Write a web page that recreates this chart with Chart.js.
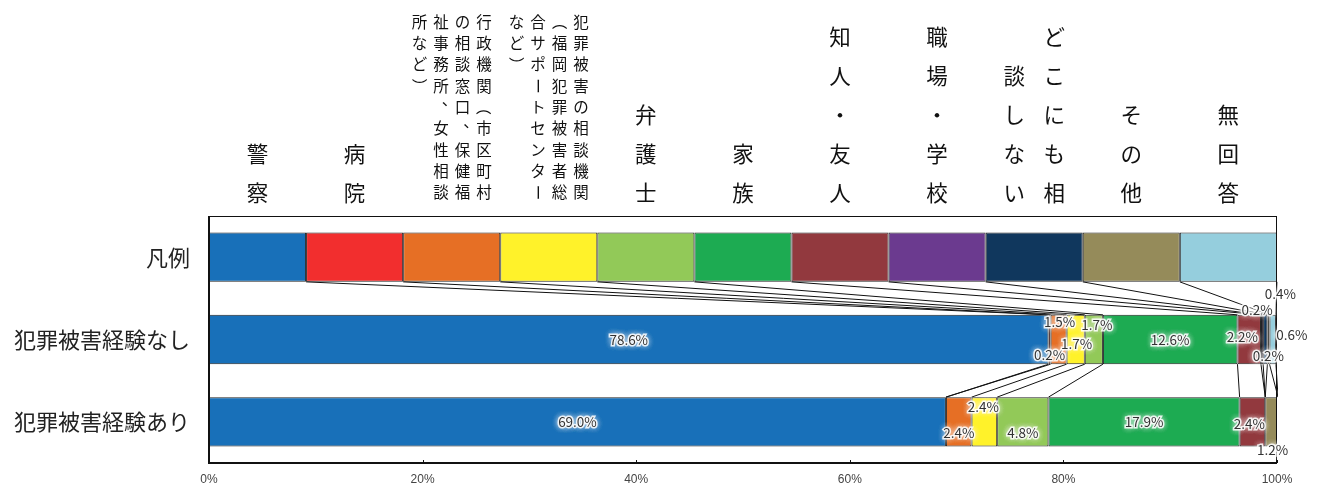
<!DOCTYPE html>
<html lang="ja">
<head>
<meta charset="utf-8">
<title>相談先</title>
<script src="https://cdn.jsdelivr.net/npm/chart.js@4.4.1/dist/chart.umd.min.js"></script>
<style>
  body { margin: 0; background: #fff; }
  #wrap { position: relative; width: 1317px; height: 489px; }
</style>
</head>
<body>
<div id="wrap"><canvas id="consult_chart"></canvas></div>
<script>
// Chart data

const categories = [
    '警察',
    '病院',
    '行政機関（市区町村の相談窓口、保健福祉事務所、女性相談所など）',
    '犯罪被害の相談機関（福岡犯罪被害者総合サポートセンターなど）',
    '弁護士',
    '家族',
    '知人・友人',
    '職場・学校',
    'どこにも相談しない',
    'その他',
    '無回答'
];

const groups = ['凡例', '犯罪被害経験なし', '犯罪被害経験あり'];

const legendRow = [9.09, 9.09, 9.09, 9.09, 9.09, 9.09, 9.09, 9.09, 9.09, 9.09, 9.09];
const noExperience = [78.6, 0.2, 1.5, 1.7, 1.7, 12.6, 2.2, 0.2, 0.4, 0.2, 0.6];
const withExperience = [69.0, 0, 2.4, 2.4, 4.8, 17.9, 2.4, 0, 0, 1.2, 0];

const xTicks = [0, 20, 40, 60, 80, 100];

const colors = [
    '#1870b9', '#f22e2e', '#e66f25', '#fff22a', '#92c958', '#1dab52',
    '#92393e', '#6b3a8f', '#10375d', '#958b5a', '#95cedd'
];

// label nudges (px) per row / category, like the hand-placed labels in the original
const labelNudge = {
    1: { 0: [0, 0], 1: [0, 15], 2: [1, -18], 3: [1, 4], 4: [3, -15], 5: [0, 0], 6: [-7, -3], 7: [-5, -30], 8: [15, -46], 9: [0, 16], 10: [19, -5] },
    2: { 0: [0, 0], 2: [0, 11], 3: [-1, -15], 4: [0, 11], 5: [0, 0], 6: [-3, 2], 9: [1, 28] }
};

const cjk = '"Noto Sans CJK JP", "Noto Sans", sans-serif';

function drawVChar(ctx, ch, x, y, size) {
    ctx.save();
    ctx.translate(x, y);
    if ('（）ー'.includes(ch)) {
        ctx.rotate(Math.PI / 2);
    } else if ('、。'.includes(ch)) {
        ctx.translate(size * 0.55, -size * 0.5);
    }
    ctx.fillText(ch, 0, 0);
    ctx.restore();
}

function drawHeader(ctx, text, cx) {
    const big = text.length <= 9;
    const size = big ? 21.5 : 15.5;
    const step = big ? 39 : 21.3;
    const perCol = big ? 5 : 9;
    const gap = big ? 40 : 21.5;
    const chars = Array.from(text);
    const cols = [];
    for (let i = 0; i < chars.length; i += perCol) cols.push(chars.slice(i, i + perCol));
    ctx.font = size + 'px ' + cjk;
    ctx.fillStyle = '#111';
    ctx.textAlign = 'center';
    ctx.textBaseline = 'middle';
    cols.forEach((col, i) => {
        const x = cx + (cols.length - 1) / 2 * gap - i * gap;
        col.forEach((ch, j) => {
            const y = big ? 193 - (col.length - 1 - j) * step : 22 + j * step;
            drawVChar(ctx, ch, x, y, size);
        });
    });
}

const extrasPlugin = {
    id: 'extras',
    afterDatasetsDraw(chart) {
        const ctx = chart.ctx;
        const area = chart.chartArea;
        const xs = chart.scales.x;

        // series lines between the bars
        ctx.save();
        ctx.beginPath();
        ctx.rect(area.left, area.top - 5, area.right - area.left + 1, area.bottom - area.top + 10);
        ctx.clip();
        ctx.strokeStyle = '#111';
        ctx.lineWidth = 1;
        for (let r = 0; r < groups.length - 1; r++) {
            categories.forEach((c, k) => {
                const a = chart.getDatasetMeta(k).data[r];
                const b = chart.getDatasetMeta(k).data[r + 1];
                ctx.beginPath();
                ctx.moveTo(a.x, a.y + a.height / 2);
                ctx.lineTo(b.x, b.y - b.height / 2);
                ctx.stroke();
            });
        }
        ctx.restore();

        // plot frame + inner ticks
        ctx.save();
        ctx.strokeStyle = '#111';
        ctx.lineWidth = 1;
        ctx.strokeRect(area.left + 0.5, area.top + 0.5, area.right - area.left - 1, area.bottom - area.top - 1);
        ctx.lineWidth = 2;
        ctx.beginPath();
        ctx.moveTo(area.left, area.top);
        ctx.lineTo(area.left, area.bottom);
        ctx.lineTo(area.right, area.bottom);
        ctx.stroke();
        ctx.lineWidth = 1;
        xTicks.forEach(v => {
            const px = Math.round(xs.getPixelForValue(v)) + 0.5;
            ctx.beginPath();
            ctx.moveTo(px, area.bottom);
            ctx.lineTo(px, area.bottom - 3);
            ctx.stroke();
        });
        ctx.restore();

        // data labels with white glow
        ctx.save();
        ctx.font = '13.5px ' + cjk;
        ctx.textAlign = 'center';
        ctx.textBaseline = 'middle';
        [noExperience, withExperience].forEach((vals, i) => {
            const r = i + 1;
            vals.forEach((v, k) => {
                if (!v) return;
                const bar = chart.getDatasetMeta(k).data[r];
                const nudge = labelNudge[r][k] || [0, 0];
                const x = (bar.x + bar.base) / 2 + nudge[0];
                const y = bar.y + nudge[1];
                const txt = v.toFixed(1) + '%';
                ctx.shadowColor = '#fff';
                ctx.shadowBlur = 6;
                ctx.fillStyle = 'rgba(255,255,255,0.9)';
                for (let n = 0; n < 4; n++) ctx.fillText(txt, x, y);
                ctx.shadowBlur = 0;
                ctx.strokeStyle = 'rgba(255,255,255,0.85)';
                ctx.lineWidth = 3;
                ctx.strokeText(txt, x, y);
                ctx.fillStyle = '#333';
                ctx.fillText(txt, x, y);
            });
        });
        ctx.restore();

        // vertical category headers above the plot
        ctx.save();
        let cum = 0;
        legendRow.forEach((w, k) => {
            drawHeader(ctx, categories[k], xs.getPixelForValue(cum + w / 2));
            cum += w;
        });
        ctx.restore();
    }
};

const datasets = categories.map((name, k) => ({
    label: name,
    data: [legendRow[k], noExperience[k], withExperience[k]],
    backgroundColor: colors[k],
    borderColor: '#222',
    borderWidth: 1,
    borderSkipped: false,
    barPercentage: 0.6,
    categoryPercentage: 1
}));

const consult_chart_ctx = document.getElementById('consult_chart').getContext('2d');
const consult_chart = new Chart(consult_chart_ctx, {
    type: 'bar',
    data: {
        labels: groups,
        datasets: datasets
    },
    plugins: [extrasPlugin],
    options: {
        indexAxis: 'y',
        responsive: true,
        maintainAspectRatio: false,
        animation: false,
        layout: {
            padding: { top: 216, left: 0, right: 40, bottom: 0 }
        },
        plugins: {
            legend: { display: false },
            tooltip: { enabled: false }
        },
        scales: {
            x: {
                stacked: true,
                min: 0,
                max: 100,
                afterBuildTicks: (scale) => { scale.ticks = xTicks.map(v => ({ value: v })); },
                afterFit: (scale) => { scale.height = 26; },
                grid: { display: false, drawTicks: false, tickLength: 0 },
                border: { display: false },
                ticks: {
                    padding: 9,
                    color: '#444',
                    font: { size: 12, family: '"Liberation Sans Narrow", "Liberation Sans", sans-serif' },
                    callback: (v) => v + '%'
                }
            },
            y: {
                stacked: true,
                afterFit: (scale) => {
                    scale.width = 209;
                    scale.paddingTop = 0;
                    scale.paddingBottom = 0;
                },
                grid: { display: false, drawTicks: false, tickLength: 0 },
                border: { display: false },
                ticks: {
                    padding: 19,
                    color: '#222',
                    font: { size: 22, family: cjk }
                }
            }
        }
    }
});
</script>
</body>
</html>
